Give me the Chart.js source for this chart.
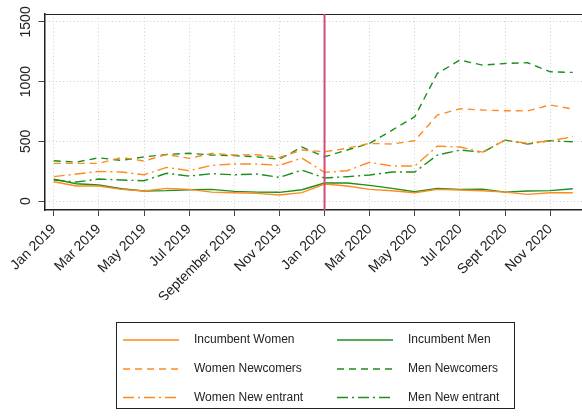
<!DOCTYPE html>
<html lang="en">
<head>
  <meta charset="UTF-8">
  <title>Monthly hires by group, 2019-2020</title>
  <script src="https://cdn.jsdelivr.net/npm/chart.js"></script>
  <style>
    html, body { margin: 0; padding: 0; background: #fff; }
    #wrap { width: 582px; height: 417px; position: relative; }
  </style>
</head>
<body>
<div id="wrap">
  <canvas id="hiresChart"></canvas>
</div>
<script>
  // Months Jan 2019 .. Dec 2020
  const months = [
    'Jan 2019', 'Feb 2019', 'Mar 2019', 'Apr 2019', 'May 2019', 'Jun 2019',
    'Jul 2019', 'Aug 2019', 'Sep 2019', 'Oct 2019', 'Nov 2019', 'Dec 2019',
    'Jan 2020', 'Feb 2020', 'Mar 2020', 'Apr 2020', 'May 2020', 'Jun 2020',
    'Jul 2020', 'Aug 2020', 'Sep 2020', 'Oct 2020', 'Nov 2020', 'Dec 2020'
  ];
  // every second month gets a tick label
  const tickLabels = ['Jan 2019', 'Mar 2019', 'May 2019', 'Jul 2019', 'September 2019', 'Nov 2019',
                      'Jan 2020', 'Mar 2020', 'May 2020', 'Jul 2020', 'Sept 2020', 'Nov 2020'];
  const yTicks = [0, 500, 1000, 1500];

  const incumbentWomen = [162, 126, 126, 98, 84, 106, 98, 75, 70, 64, 50, 70,
                          142, 126, 98, 86, 70, 98, 92, 86, 75, 56, 70, 70];
  const incumbentMen = [184, 145, 134, 103, 84, 87, 95, 98, 81, 75, 73, 95,
                        151, 151, 131, 106, 78, 106, 98, 100, 75, 84, 87, 103];
  const womenNewcomers = [315, 315, 315, 365, 335, 390, 357, 399, 385, 388, 365, 427,
                          413, 441, 483, 477, 505, 720, 773, 762, 756, 755, 804, 770];
  const menNewcomers = [337, 326, 362, 340, 370, 390, 400, 385, 380, 370, 350, 452,
                        371, 427, 483, 594, 706, 1069, 1180, 1138, 1152, 1158, 1082, 1077];
  const womenNewEntrant = [204, 226, 248, 243, 220, 282, 254, 299, 310, 310, 299, 360,
                           240, 254, 324, 293, 293, 460, 452, 410, 510, 483, 505, 538];
  const menNewEntrant = [176, 159, 184, 176, 170, 232, 209, 229, 220, 226, 198, 259,
                         193, 204, 218, 243, 243, 385, 427, 408, 510, 477, 505, 496];

  const policyMonth = 'Jan 2020';

  const ORANGE = '#ff8a1f';
  const GREEN = '#1c8f1c';
  const DASH = [7, 5];
  const DASHDOT = [11, 4, 2, 4];
  const FONT = '"Liberation Sans", Arial, sans-serif';

  const toPoints = arr => arr.map((v, i) => ({ x: i, y: v }));

  function series(label, values, color, dash) {
    return {
      label: label,
      data: toPoints(values),
      borderColor: color,
      backgroundColor: color,
      borderWidth: 1.4,
      borderDash: dash,
      pointRadius: 0,
      tension: 0,
      fill: false
    };
  }

  // frame, reference line and rotated y labels
  const decorations = {
    id: 'decorations',
    afterDatasetsDraw(chart) {
      const { ctx, chartArea, scales } = chart;
      ctx.save();
      // top edge of the plot frame
      ctx.strokeStyle = '#222';
      ctx.lineWidth = 1;
      ctx.beginPath();
      ctx.moveTo(chartArea.left, chartArea.top + 0.5);
      ctx.lineTo(chartArea.right, chartArea.top + 0.5);
      ctx.stroke();
      // vertical marker
      const xp = scales.x.getPixelForValue(months.indexOf(policyMonth));
      ctx.strokeStyle = '#d24a78';
      ctx.lineWidth = 2;
      ctx.beginPath();
      ctx.moveTo(xp, chartArea.top);
      ctx.lineTo(xp, chartArea.bottom);
      ctx.stroke();
      ctx.restore();
    },
    afterDraw(chart) {
      const { ctx, scales } = chart;
      ctx.save();
      ctx.fillStyle = '#222';
      ctx.font = '14px ' + FONT;
      ctx.textAlign = 'center';
      ctx.textBaseline = 'middle';
      yTicks.forEach(v => {
        const yp = scales.y.getPixelForValue(v);
        ctx.save();
        ctx.translate(26.5, yp);
        ctx.rotate(-Math.PI / 2);
        ctx.fillText(String(v), 0, 0);
        ctx.restore();
      });
      ctx.restore();
    }
  };

  // boxed two-column legend under the plot
  const boxLegend = {
    id: 'boxLegend',
    afterDraw(chart) {
      const { ctx } = chart;
      const sets = chart.data.datasets;
      ctx.save();
      ctx.strokeStyle = '#222';
      ctx.lineWidth = 1;
      ctx.strokeRect(116.5, 322.5, 398, 86);
      ctx.font = '12px ' + FONT;
      ctx.fillStyle = '#222';
      ctx.textBaseline = 'middle';
      const cols = [{ x1: 123, x2: 179, tx: 194 }, { x1: 337, x2: 393, tx: 408 }];
      const rows = [340, 369, 397.5];
      sets.forEach((ds, i) => {
        const c = cols[i % 2];
        const y = rows[Math.floor(i / 2)];
        ctx.save();
        ctx.strokeStyle = ds.borderColor;
        ctx.lineWidth = ds.borderWidth;
        ctx.setLineDash(ds.borderDash || []);
        ctx.beginPath();
        ctx.moveTo(c.x1, y);
        ctx.lineTo(c.x2, y);
        ctx.stroke();
        ctx.restore();
        ctx.fillText(ds.label, c.tx, y);
      });
      ctx.restore();
    }
  };

  const ctx = document.getElementById('hiresChart').getContext('2d');
  const hiresChart = new Chart(ctx, {
    type: 'line',
    data: {
      datasets: [
        series('Incumbent Women', incumbentWomen, ORANGE, []),
        series('Incumbent Men', incumbentMen, GREEN, []),
        series('Women Newcomers', womenNewcomers, ORANGE, DASH),
        series('Men Newcomers', menNewcomers, GREEN, DASH),
        series('Women New entrant', womenNewEntrant, ORANGE, DASHDOT),
        series('Men New entrant', menNewEntrant, GREEN, DASHDOT)
      ]
    },
    options: {
      responsive: true,
      maintainAspectRatio: false,
      animation: false,
      layout: { padding: { top: 14, left: 0, right: -3, bottom: 117 } },
      plugins: {
        legend: { display: false },
        tooltip: { enabled: false }
      },
      scales: {
        x: {
          type: 'linear',
          min: -0.41,
          max: 23.41,
          // one tick every second month, starting in January 2019
          afterBuildTicks: scale => {
            scale.ticks = tickLabels.map((t, i) => ({ value: i * 2 }));
          },
          afterFit: scale => { scale.height = 90; },
          ticks: {
            minRotation: 45,
            maxRotation: 45,
            autoSkip: false,
            padding: 5,
            color: '#222',
            font: { family: FONT, size: 14 },
            callback: (value) => tickLabels[Math.round(value) / 2]
          },
          grid: {
            color: '#cfcfcf',
            lineWidth: 1,
            tickColor: '#444',
            tickLength: 6,
            tickBorderDash: []
          },
          border: { color: '#222', width: 1.5, dash: [1, 2.5] }
        },
        y: {
          min: -75,
          max: 1566,
          afterBuildTicks: scale => { scale.ticks = yTicks.map(v => ({ value: v })); },
          afterFit: scale => { scale.width = 44.5; },
          ticks: { display: false },
          grid: {
            color: '#cfcfcf',
            lineWidth: 1,
            tickColor: '#444',
            tickLength: 6,
            tickBorderDash: []
          },
          border: { color: '#222', width: 1.5, dash: [1, 2.5] }
        }
      }
    },
    plugins: [decorations, boxLegend]
  });
</script>
</body>
</html>
